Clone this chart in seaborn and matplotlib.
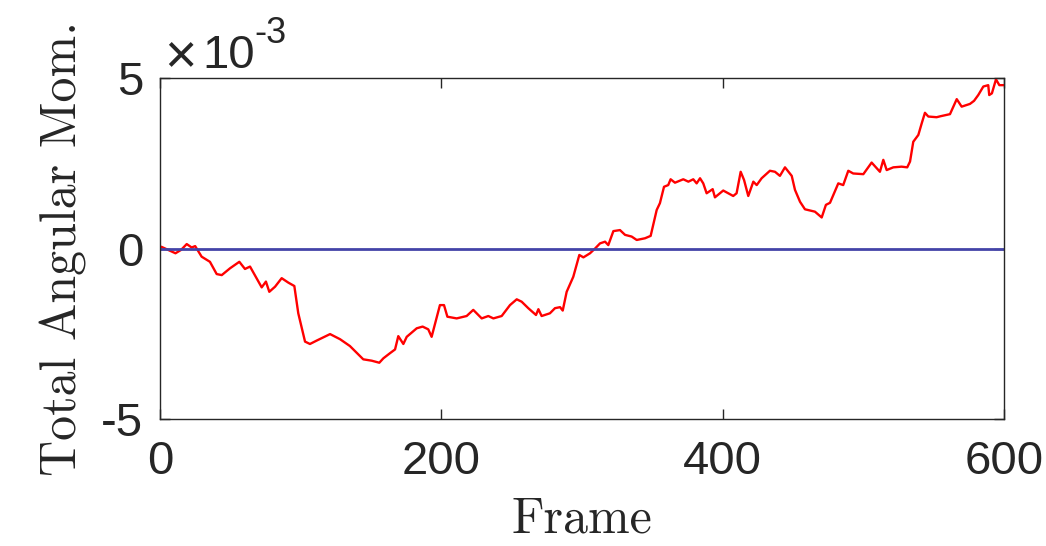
"""Total angular momentum per frame, MATLAB-style look."""
import matplotlib.pyplot as plt
import pandas as pd
import seaborn as sns

# frame index and total angular momentum (units of 1e-3)
frames = [0, 1, 11, 15, 19, 22.5, 25, 29.6, 35.5, 40.3, 43.9, 49.8, 56.4, 60.4, 64,
          72.3, 75.3, 77.7, 81.8, 86.5, 91.2, 95.5, 98.3, 103.1, 106.6, 111.4,
          120.9, 128, 135, 144.5, 150.5, 155.9, 158.8, 163.5, 167.1, 169.4, 173,
          175.4, 182.5, 186.7, 190.7, 193.1, 199, 201.9, 204.3, 210.9, 218, 222.7,
          228.7, 233.4, 237, 242.9, 248.8, 253.6, 257.1, 261.8, 267.3, 269, 271.3,
          277.2, 280.8, 284.4, 286.3, 289.1, 293.8, 298.1, 301, 305.7, 309.3,
          312.8, 316.4, 318.7, 322.3, 327, 330.6, 335.3, 338.9, 344.8, 348.8,
          353.1, 355.4, 358.3, 361.3, 363, 366.1, 372, 375.6, 379.1, 381.5, 383.9,
          386.2, 388.6, 392.9, 394.5, 400.4, 407.5, 409.9, 412.8, 415.2, 418.2,
          421.8, 424.2, 427.7, 433.6, 437.2, 440.7, 444.3, 449.1, 451.4, 455,
          458.5, 465.6, 470.4, 473.4, 476.3, 482.2, 485.7, 489.3, 492.8, 500,
          505.9, 511.8, 514.2, 516.6, 521.3, 527.2, 531.2, 533.2, 535.5, 539.1,
          541.5, 543.8, 546.2, 552.1, 555, 561.6, 566.4, 569.9, 575.8, 578.7,
          581.7, 585.3, 588.8, 589.5, 591.4, 594.3, 596.7, 600]
mom_e3 = [0.0, 0.05, -0.14, -0.04, 0.13, 0.03, 0.07, -0.24, -0.39, -0.75, -0.78,
          -0.58, -0.39, -0.60, -0.53, -1.14, -0.97, -1.27, -1.12, -0.87, -1.00,
          -1.10, -1.90, -2.73, -2.80, -2.70, -2.51, -2.66, -2.86, -3.25, -3.29,
          -3.35, -3.22, -3.07, -2.96, -2.57, -2.80, -2.59, -2.34, -2.29, -2.37,
          -2.59, -1.66, -1.66, -2.00, -2.05, -1.98, -1.80, -2.05, -1.98, -2.05,
          -1.98, -1.66, -1.49, -1.56, -1.75, -1.95, -1.78, -1.98, -1.90, -1.75,
          -1.72, -1.82, -1.27, -0.83, -0.19, -0.26, -0.14, 0.0, 0.15, 0.20, 0.10,
          0.51, 0.54, 0.40, 0.35, 0.25, 0.30, 0.37, 1.13, 1.33, 1.81, 1.86, 2.03,
          1.93, 2.03, 1.96, 2.03, 1.91, 2.06, 1.91, 1.62, 1.74, 1.50, 1.70, 1.54,
          1.62, 2.25, 2.01, 1.54, 1.96, 1.86, 2.06, 2.28, 2.25, 2.13, 2.38, 2.13,
          1.72, 1.37, 1.15, 1.08, 0.91, 1.28, 1.34, 1.91, 1.86, 2.28, 2.20, 2.18,
          2.52, 2.25, 2.60, 2.30, 2.38, 2.40, 2.38, 2.55, 3.13, 3.33, 3.67, 3.98,
          3.87, 3.85, 3.88, 3.94, 4.38, 4.16, 4.24, 4.33, 4.50, 4.75, 4.79, 4.50,
          4.55, 4.96, 4.79, 4.79]
ref_frames = [0, 600]
ref_mom = [0, 0]

XTICKS = [0, 200, 400, 600]
YTICKS = [-5, 0, 5]

sns.set_style("ticks")
plt.rcParams["font.family"] = ["Liberation Sans", "DejaVu Sans"]
INK = "#262626"

df = pd.DataFrame({"frame": frames, "mom": mom_e3})
ref = pd.DataFrame({"frame": ref_frames, "mom": ref_mom})

fig = plt.figure(figsize=(10.46, 5.46), dpi=100)
ax = fig.add_axes([160 / 1046, 1 - 419 / 546, 844 / 1046, 341 / 546])

sns.lineplot(data=df, x="frame", y="mom", color="#ff0000", lw=1.7, ax=ax)
sns.lineplot(data=ref, x="frame", y="mom", color="#4444a8", lw=2.0, ax=ax)

ax.set_xlim(0, 600)
ax.set_ylim(-5, 5)
ax.set_xticks(XTICKS)
ax.set_yticks(YTICKS)
ax.set_yticklabels([str(t) for t in YTICKS])
ax.tick_params(direction="in", length=7, width=1, colors=INK, labelsize=34,
               top=True, right=True)
ax.tick_params(axis="x", pad=15)
ax.tick_params(axis="y", pad=12)
for s in ax.spines.values():
    s.set_color(INK)
    s.set_linewidth(1.0)

ax.set_xlabel("Frame", fontfamily="cmr10", fontsize=36, color=INK, labelpad=9)
ax.set_ylabel("Total Angular Mom.", fontfamily="cmr10", fontsize=36, color=INK,
              labelpad=10)

# MATLAB-style exponent above the y axis
fig.text(164 / 1046, 1 - 72 / 546, "\u00d7", fontsize=40, color=INK,
         ha="left", va="baseline")
fig.text(202 / 1046, 1 - 68 / 546, "10", fontsize=34, color=INK,
         ha="left", va="baseline")
fig.text(254 / 1046, 1 - 43 / 546, "-3", fontsize=26, color=INK,
         ha="left", va="baseline")

fig.savefig("out.png", dpi=100)
